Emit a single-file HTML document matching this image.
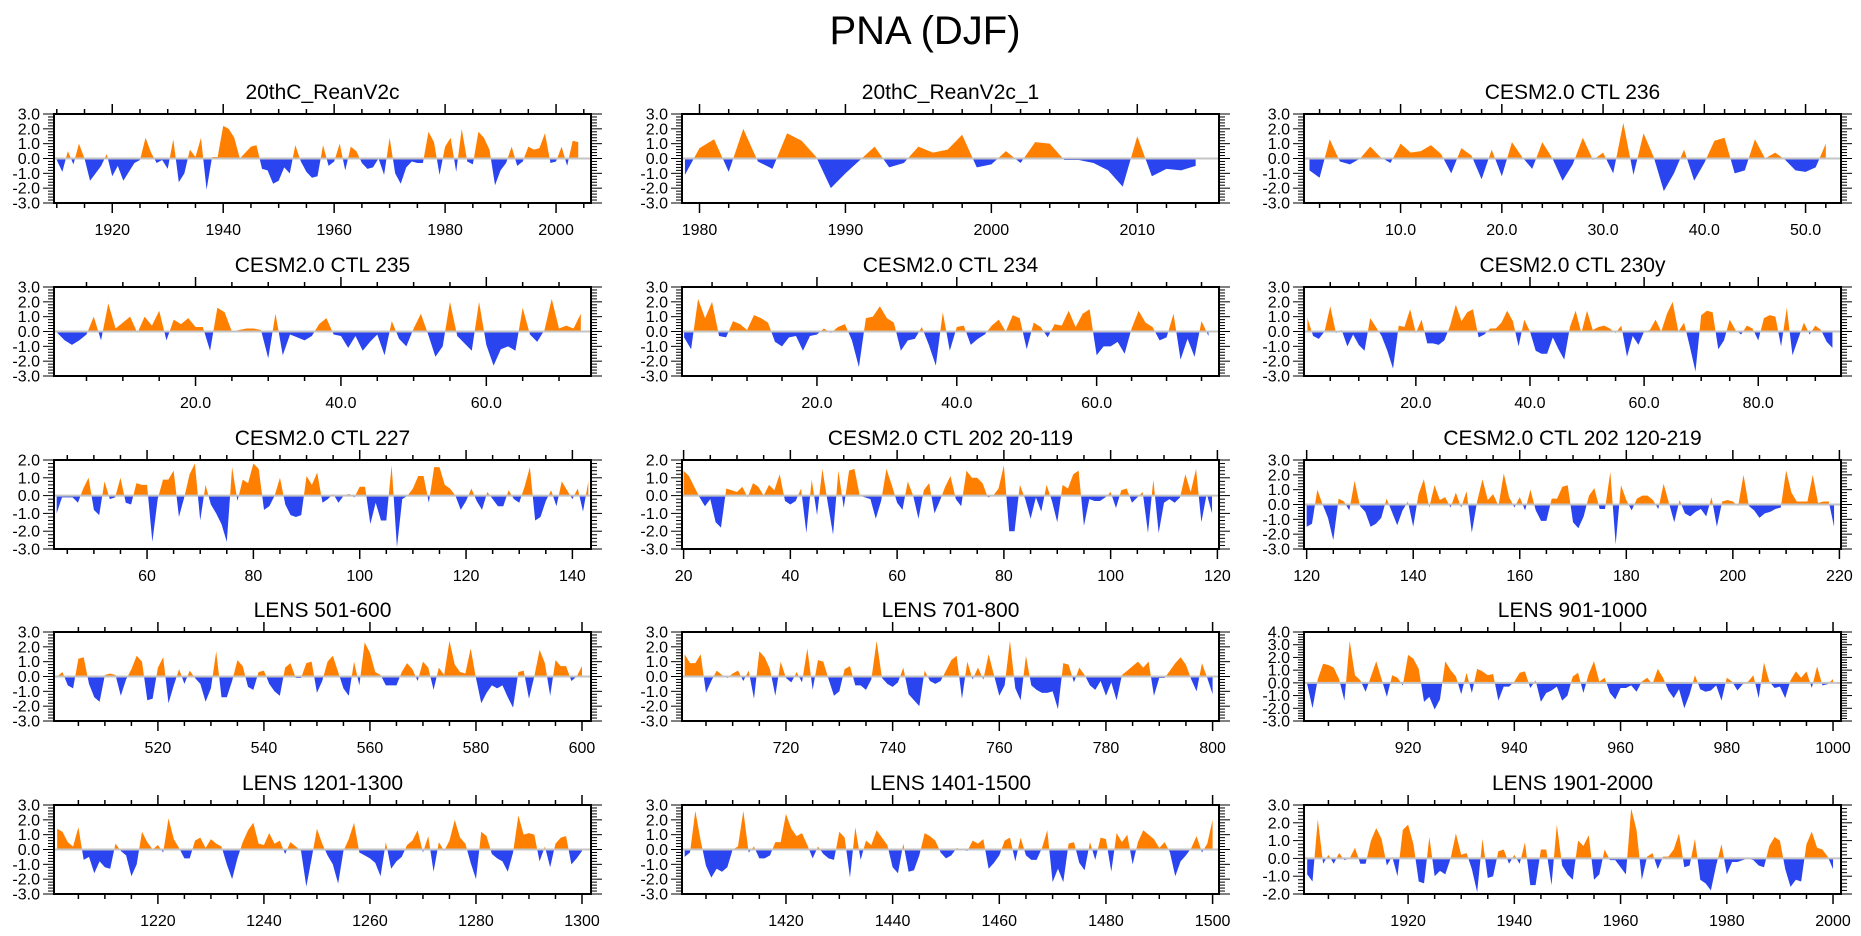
<!DOCTYPE html>
<html><head><meta charset="utf-8"><title>PNA (DJF)</title>
<style>
html,body{margin:0;padding:0;background:#fff;}
svg{display:block;font-family:"Liberation Sans",Arial,sans-serif;}
</style></head>
<body>
<svg id="chart" width="1861" height="936" viewBox="0 0 1861 936" xmlns="http://www.w3.org/2000/svg">
<rect x="0" y="0" width="1861" height="936" fill="#fff"/>
<text x="925" y="44" font-size="40" text-anchor="middle" fill="#000">PNA (DJF)</text>
</svg>
<script>
// ---------- data ----------
const rean20cStart = 1910;
const rean20c = [-0.1,-0.9,0.5,-0.4,1.0,0.0,-1.5,-1.0,-0.5,0.3,-1.2,-0.5,-1.5,-0.9,-0.3,-0.1,1.4,0.4,-0.3,-0.1,-0.7,1.3,-1.6,-1.0,0.6,0.1,1.4,-2.1,0.1,0.1,2.2,2.0,1.4,0.0,0.4,0.8,0.9,-0.7,-0.8,-1.7,-1.5,-0.6,-1.0,0.9,-0.2,-0.9,-1.3,-1.2,0.9,-0.5,-0.2,1.0,-0.8,0.8,0.5,-0.3,-0.7,-0.6,0.0,-1.1,1.4,-1.0,-1.7,-0.6,-0.2,-0.3,-0.3,1.8,1.1,-1.1,0.8,1.4,-0.9,2.0,-0.2,-0.4,1.8,1.4,0.6,-1.8,-0.8,-0.3,0.8,-0.5,-0.2,0.8,0.6,0.7,1.7,-0.3,-0.2,0.8,-0.5,1.2,1.1];
const rean20c1Start = 1979;
const rean20c1 = [-1.1,0.7,1.3,-0.9,2.0,-0.2,-0.7,1.7,1.2,0.1,-2.0,-1.0,-0.1,0.8,-0.6,-0.3,0.8,0.4,0.6,1.6,-0.6,-0.4,0.5,-0.3,1.1,1.0,-0.1,-0.1,-0.3,-0.8,-1.9,1.5,-1.2,-0.7,-0.8,-0.5];
const ctl236Start = 1;
const ctl236 = [-0.8,-1.3,1.3,-0.2,-0.4,0.0,0.8,0.1,-0.3,1.0,0.4,0.5,0.9,0.3,-1.0,0.7,0.2,-1.4,0.6,-1.2,1.1,0.1,-0.7,1.1,0.0,-1.5,-0.4,1.4,-0.1,0.4,-1.0,2.4,-1.1,1.7,0.1,-2.2,-1.0,0.6,-1.5,-0.3,1.2,1.4,-1.0,-0.8,1.3,0.0,0.4,-0.1,-0.8,-0.9,-0.6,1.0];
const ctl235Start = 1;
const ctl235 = [-0.1,-0.6,-0.9,-0.6,-0.2,1.0,-0.6,1.9,0.2,0.6,1.0,-0.1,1.0,0.4,1.4,-0.6,0.8,0.5,0.9,0.3,0.3,-1.3,1.6,1.3,0.0,0.1,0.2,0.2,0.1,-1.8,1.2,-1.6,-0.2,-0.4,-0.6,-0.3,0.5,0.9,-0.2,-0.3,-1.1,-0.3,-1.3,-0.7,-0.2,-1.6,0.7,-0.5,-1.0,0.2,1.2,-0.2,-1.7,-1.0,2.0,-0.3,-0.8,-1.3,2.0,-0.9,-2.3,-1.2,-1.0,-1.3,1.6,-0.2,-0.7,0.1,2.2,0.2,0.4,0.2,1.2];
const ctl234Start = 1;
const ctl234 = [-0.4,-1.2,2.2,0.9,2.0,-0.3,-0.4,0.7,0.5,0.1,1.1,0.9,0.6,-0.7,-1.0,-0.4,-0.3,-1.3,-0.3,-0.2,0.2,-0.1,0.3,0.5,-0.6,-2.4,0.9,1.0,1.7,0.9,0.6,-1.3,-0.6,-0.5,0.3,-0.9,-2.3,1.3,-1.3,0.3,0.4,-0.9,-0.5,-0.2,0.4,0.8,0.0,1.1,0.9,-1.2,0.6,0.3,-0.4,0.5,0.4,1.4,0.3,1.2,1.5,-1.6,-1.0,-1.0,-0.7,-1.5,0.2,1.4,0.6,0.3,-0.6,-0.4,1.2,-1.9,-0.5,-1.7,0.7,-0.3];
const ctl230Start = 1;
const ctl230 = [0.9,-0.3,-0.5,0.0,1.7,-0.1,0.1,-1.0,-0.2,-0.9,-1.3,0.9,0.3,-0.3,-1.3,-2.5,0.4,0.3,1.5,-0.1,0.8,-0.8,-0.8,-0.9,-0.6,0.4,1.8,0.7,1.3,1.5,-0.4,-0.2,0.2,0.2,0.6,1.4,0.7,-1.0,0.8,0.0,-1.3,-1.5,-1.5,-0.4,-1.2,-1.9,0.3,1.4,-0.1,1.4,0.1,0.3,0.4,0.2,-0.1,0.4,-1.7,-0.3,-0.9,0.0,0.1,0.8,0.0,1.2,2.0,0.0,0.6,-1.0,-2.7,1.1,1.4,1.3,-1.2,-0.6,0.8,0.1,-0.2,0.4,0.2,-0.6,0.9,1.1,1.0,-1.0,1.6,-1.6,-0.5,0.6,-0.2,0.4,0.1,-0.7,-1.1];
const ctl227Start = 43;
const ctl227 = [-1.0,-0.1,-0.1,-0.1,-0.4,0.4,1.0,-0.8,-1.1,0.8,-0.2,-0.1,1.0,-0.4,-0.5,0.7,0.6,0.6,-2.6,-0.2,0.9,0.9,1.4,-1.2,-0.1,1.2,1.8,-1.4,0.6,-0.5,-1.0,-1.6,-2.6,1.6,-0.3,0.9,0.7,1.8,1.5,-0.8,-0.6,0.0,1.0,-0.5,-1.1,-1.2,-1.1,1.1,0.6,1.3,-0.4,-0.2,0.1,-0.4,0.0,0.1,-0.1,0.5,0.5,-1.6,-0.4,-1.4,-1.4,1.7,-2.9,-0.2,0.0,0.4,1.1,1.1,-0.4,1.6,1.6,0.6,0.4,0.0,-0.8,-0.3,0.4,-0.3,-0.8,0.2,-0.2,-0.6,-0.6,0.3,-0.2,-0.4,0.5,1.6,-1.4,-1.2,-0.3,0.3,-0.6,0.8,0.3,-0.2,0.4,-0.9,0.8];
const ctl202aStart = 20;
const ctl202a = [1.4,1.1,0.5,-0.1,-0.6,-0.2,-1.5,-1.8,0.4,0.3,0.2,0.5,-0.1,0.7,0.5,0.0,0.6,0.3,1.2,-0.3,-0.5,-0.3,0.4,-2.1,0.9,-1.1,1.5,-0.4,-2.2,1.4,-0.7,1.4,1.5,0.0,-0.1,-0.2,-1.3,-0.3,1.5,0.6,-0.4,-0.8,0.8,0.0,-1.3,0.3,0.7,-1.0,-0.3,0.5,1.1,-0.2,-0.6,1.4,1.0,1.0,0.7,-0.1,0.0,0.4,1.7,-2.0,-2.0,0.6,-0.2,-1.3,-0.1,-0.9,0.6,-0.3,-1.5,0.6,0.4,1.2,1.4,-1.7,-0.2,-0.3,-0.3,-0.1,0.2,-0.7,0.3,0.4,-0.4,-0.1,0.2,-2.1,0.9,-2.1,-0.4,-0.2,-0.4,-0.1,1.2,0.2,1.5,-1.5,0.1,-1.0];
const ctl202bStart = 120;
const ctl202b = [-1.5,-1.3,1.0,0.0,-0.9,-2.4,0.4,0.2,-0.4,1.6,-0.1,-0.5,-1.5,-1.3,-0.9,0.4,-0.5,-1.4,-0.4,0.2,-1.5,0.7,1.7,-0.2,1.3,0.3,0.5,-0.2,0.8,-0.2,0.9,-1.9,0.2,1.7,0.3,0.7,-0.1,2.1,0.5,-0.2,0.5,-0.4,1.0,-0.4,-1.1,-1.1,0.4,0.4,1.2,1.3,-1.2,-1.6,-0.8,0.6,1.1,-0.3,-0.3,2.2,-2.7,1.3,0.3,-0.4,0.4,0.6,0.6,0.3,-0.3,1.4,0.1,-1.2,0.3,-0.6,-0.8,-0.5,-0.3,-0.8,0.5,-1.5,0.2,0.3,0.2,-0.1,2.0,-0.1,-0.4,-0.9,-0.6,-0.5,-0.3,-0.2,2.3,0.8,0.2,0.2,0.2,2.0,0.1,0.2,0.2,-1.5];
const lens501Start = 501;
const lens501 = [0.0,0.3,-0.6,-0.8,1.2,1.3,-0.5,-1.4,-1.7,0.1,0.2,0.1,-1.3,-0.2,0.5,1.4,1.0,-1.6,-1.5,0.6,1.3,-1.8,-0.6,0.5,-0.5,0.4,-0.1,-0.5,-1.7,-0.8,1.7,-1.4,-1.4,-0.3,1.1,0.7,-0.7,-0.9,0.3,0.4,-0.5,-1.0,-1.3,0.6,0.9,-0.1,-0.1,0.9,1.0,-1.1,-0.3,1.0,1.4,0.3,-0.8,-1.3,1.0,-0.6,2.3,1.6,0.3,0.1,-0.6,-0.6,-0.6,0.3,0.9,0.5,-0.3,1.0,0.6,-0.9,0.6,0.1,2.4,0.8,0.3,0.2,1.9,-0.1,-1.8,-1.1,-0.6,-0.8,-0.6,-1.4,-2.1,0.3,0.4,-1.5,0.0,1.8,0.9,-1.3,1.1,0.7,0.7,-0.3,0.0,0.7];
const lens701Start = 701;
const lens701 = [1.5,0.9,0.9,1.5,-1.1,-0.3,0.4,0.1,-0.1,0.2,0.4,-0.3,0.4,-1.5,1.7,1.3,0.5,-1.3,1.0,-0.1,-0.4,0.3,-0.4,1.9,-0.9,1.1,1.0,-0.2,-1.3,-1.0,0.5,0.7,-0.6,-0.6,-0.9,-0.2,2.4,-0.1,-0.5,-0.7,-0.4,0.6,-1.2,-1.6,-2.0,0.4,-0.3,-0.5,-0.3,0.4,1.1,1.4,-1.5,1.0,-0.2,0.6,-0.2,1.5,0.1,-1.3,-0.6,2.4,-0.8,-1.6,1.4,-0.6,-0.9,-1.1,-1.1,-1.0,-2.2,0.9,0.8,-0.4,0.6,0.1,-0.6,-0.9,-0.3,-1.3,-0.4,-1.6,0.1,0.4,0.7,1.0,0.6,1.0,-1.3,-0.1,-0.1,0.4,0.9,1.3,0.8,-0.2,-1.0,0.9,-0.1,-1.2];
const lens901Start = 901;
const lens901 = [-0.1,-2.0,0.3,1.5,1.4,1.2,0.3,-1.4,3.3,0.6,0.2,-0.7,0.5,1.7,0.3,-1.1,0.6,0.4,-0.2,2.2,1.9,1.1,-1.5,-1.1,-2.1,-1.3,1.7,1.0,0.5,-0.9,0.8,-0.8,1.1,0.9,0.6,0.7,-1.4,-0.3,-0.3,0.1,0.8,0.9,-0.4,0.2,-1.5,-0.8,-0.6,-0.3,-1.4,-1.0,0.5,0.8,-0.8,0.7,1.7,0.1,0.4,-0.8,-1.3,-0.4,-0.4,-0.2,-0.7,0.1,0.4,-0.1,1.1,0.4,-0.6,-1.2,-0.5,-2.0,-0.9,0.6,-0.5,-0.7,-0.6,-0.2,-1.4,0.4,0.1,-0.6,-0.1,0.1,0.6,-1.2,1.6,0.1,-0.4,-0.3,-1.2,0.2,0.9,0.4,0.9,-0.4,1.3,-0.2,-0.1,0.3];
const lens1201Start = 1201;
const lens1201 = [1.4,1.2,0.5,0.2,1.5,-0.7,-0.5,-1.6,-0.8,-1.2,-1.3,0.4,-0.1,-0.4,-1.8,-1.0,1.2,0.5,0.0,0.3,-0.2,2.1,0.7,0.1,-0.6,-0.6,0.6,0.8,0.1,0.7,0.4,0.2,-1.0,-2.0,-0.6,0.5,1.3,1.8,0.4,0.3,1.1,0.4,0.6,-0.3,0.5,0.2,-0.1,-2.5,-0.6,1.4,0.4,-0.4,-1.0,-2.3,-0.1,0.7,1.8,-0.2,-0.4,-0.6,-0.9,-1.8,0.5,-1.3,-0.8,-0.5,0.3,0.6,1.3,-0.2,0.9,-1.5,0.5,-0.1,0.6,2.0,0.8,0.4,-0.9,-2.0,1.2,0.9,-0.3,-0.6,-0.8,-1.5,-0.2,2.3,1.0,1.1,1.0,-0.8,0.2,-1.2,0.4,0.8,0.9,-1.0,-0.6,-0.1];
const lens1401Start = 1401;
const lens1401 = [-0.5,-0.2,2.6,0.6,-1.1,-1.9,-1.3,-1.5,-1.2,0.0,0.2,2.6,-0.2,0.2,-0.6,-0.6,-0.4,0.5,0.5,2.4,1.4,0.9,1.1,0.3,-0.6,0.2,-0.3,-0.6,-0.7,1.2,0.8,-1.9,1.5,-0.7,0.6,0.3,1.3,0.8,0.3,-1.2,-1.6,0.4,-1.5,-1.4,-0.4,1.1,0.9,0.6,-0.2,-0.6,-0.4,0.1,0.0,-0.1,0.6,0.4,0.7,-1.3,-0.9,-0.4,0.6,0.8,-0.8,0.8,-0.4,-0.7,-0.7,0.1,1.3,-2.2,-1.3,-2.2,0.4,0.5,-0.9,-1.4,0.5,-0.7,0.8,0.7,-1.5,1.1,0.5,1.0,-1.0,0.5,1.3,1.0,0.7,0.1,0.5,-0.2,-1.8,-0.8,-0.4,0.1,0.9,-0.2,0.4,2.0];
const lens1901Start = 1901;
const lens1901 = [-0.9,-1.3,2.2,-0.3,0.2,-0.3,0.3,-0.1,0.0,0.6,-0.3,-0.3,1.0,1.7,1.1,-0.4,0.1,-1.0,1.6,1.9,0.8,-1.3,-1.4,1.2,-1.0,-0.7,-0.9,0.0,1.4,0.2,0.3,-0.6,-1.9,1.1,-1.1,-1.0,0.4,0.5,-0.3,0.2,-0.3,0.9,-1.5,-1.5,0.5,0.5,-1.5,1.9,-0.4,-0.9,-1.2,1.0,0.7,1.3,-1.2,-0.9,0.5,-0.1,-0.1,-0.5,-0.9,2.8,1.6,-1.2,0.1,0.3,-0.6,0.1,0.1,0.5,1.4,-0.5,-0.4,1.1,-1.2,-1.4,-1.8,-0.4,0.8,-0.9,-0.2,-0.2,-0.1,0.0,-0.1,-0.4,-0.5,0.7,1.2,1.0,-0.6,-1.6,-1.2,-1.3,0.8,1.5,0.6,0.5,0.1,-0.6];

// panel titles
const panelTitles = ["20thC_ReanV2c","20thC_ReanV2c_1","CESM2.0 CTL 236","CESM2.0 CTL 235","CESM2.0 CTL 234","CESM2.0 CTL 230y","CESM2.0 CTL 227","CESM2.0 CTL 202 20-119","CESM2.0 CTL 202 120-219","LENS 501-600","LENS 701-800","LENS 901-1000","LENS 1201-1300","LENS 1401-1500","LENS 1901-2000"];
const panelSeries = [rean20c,rean20c1,ctl236,ctl235,ctl234,ctl230,ctl227,ctl202a,ctl202b,lens501,lens701,lens901,lens1201,lens1401,lens1901];
const panelStarts = [rean20cStart,rean20c1Start,ctl236Start,ctl235Start,ctl234Start,ctl230Start,ctl227Start,ctl202aStart,ctl202bStart,lens501Start,lens701Start,lens901Start,lens1201Start,lens1401Start,lens1901Start];
const panelXMin = [1909.5,1978.8,0.46,0.53,0.7,0.4,42.5,19.7,119.5,500.4,700.5,900.4,1200.4,1400.5,1900.4];
const panelXMax = [2006.3,2015.6,53.5,74.4,77.5,94.5,143.5,120.3,220.3,601.7,801.2,1001.5,1301.7,1501.2,2001.5];
const panelYMin = [-3,-3,-3,-3,-3,-3,-3,-3,-3,-3,-3,-3,-3,-3,-2];
const panelYMax = [3,3,3,3,3,3,2,2,3,3,3,4,3,3,3];
const xMajorStep = [20,10,10,20,20,20,20,20,20,20,20,20,20,20,20];
const xMinorStep = [5,2,2,5,5,5,5,5,5,5,5,5,5,5,5];
const xDecimals = [0,0,1,1,1,1,0,0,0,0,0,0,0,0,0];

// ---------- layout ----------
const colLeft = [54, 682, 1304];
const rowTop = [114, 287, 460, 632, 805];
const PW = 537, PH = 89;
const NS = "http://www.w3.org/2000/svg";
const svg = document.getElementById('chart');

function el(tag, parent) {
  const e = document.createElementNS(NS, tag);
  parent.appendChild(e);
  return e;
}
function line(parent, x1, y1, x2, y2, w) {
  const l = el('line', parent);
  l.setAttribute('x1', x1); l.setAttribute('y1', y1);
  l.setAttribute('x2', x2); l.setAttribute('y2', y2);
  l.setAttribute('stroke', '#000'); l.setAttribute('stroke-width', w);
  return l;
}

panelSeries.forEach((vals, p) => {
  const L = colLeft[p % 3], T = rowTop[Math.floor(p / 3)];
  const xmin = panelXMin[p], xmax = panelXMax[p], ymin = panelYMin[p], ymax = panelYMax[p];
  const sx = v => L + (v - xmin) / (xmax - xmin) * PW;
  const sy = v => T + (ymax - v) / (ymax - ymin) * PH;
  const y0 = sy(0);

  const g = el('g', svg);
  
  

  const title = el('text', g);
  
  
  title.setAttribute('x', L + PW / 2); title.setAttribute('y', T - 15);
  title.setAttribute('font-size', '21'); title.setAttribute('text-anchor', 'middle');
  title.textContent = panelTitles[p];

  // clip paths
  const defs = el('defs', g);
  const cpA = el('clipPath', defs); cpA.setAttribute('id', 'ca' + p);
  const ra = el('rect', cpA); ra.setAttribute('x', L); ra.setAttribute('y', T); ra.setAttribute('width', PW); ra.setAttribute('height', y0 - T);
  const cpB = el('clipPath', defs); cpB.setAttribute('id', 'cb' + p);
  const rb = el('rect', cpB); rb.setAttribute('x', L); rb.setAttribute('y', y0); rb.setAttribute('width', PW); rb.setAttribute('height', T + PH - y0);

  const start = panelStarts[p];
  let pts = sx(start).toFixed(2) + ',' + y0.toFixed(2);
  vals.forEach((v, i) => { pts += ' ' + sx(start + i).toFixed(2) + ',' + sy(v).toFixed(2); });
  pts += ' ' + sx(start + vals.length - 1).toFixed(2) + ',' + y0.toFixed(2);

  const pos = el('polygon', g);
  
  
  pos.setAttribute('points', pts); pos.setAttribute('fill', '#ff8000'); pos.setAttribute('clip-path', 'url(#ca' + p + ')');
  const neg = el('polygon', g);
  
  
  neg.setAttribute('points', pts); neg.setAttribute('fill', '#2a45f0'); neg.setAttribute('clip-path', 'url(#cb' + p + ')');

  const zl = el('line', g);
  
  
  zl.setAttribute('x1', L); zl.setAttribute('x2', L + PW); zl.setAttribute('y1', y0); zl.setAttribute('y2', y0);
  zl.setAttribute('stroke', '#c4c4c4'); zl.setAttribute('stroke-width', '2');

  // frame
  const fr = el('rect', g);
  
  
  fr.setAttribute('x', L); fr.setAttribute('y', T); fr.setAttribute('width', PW); fr.setAttribute('height', PH);
  fr.setAttribute('fill', 'none'); fr.setAttribute('stroke', '#000'); fr.setAttribute('stroke-width', '2');

  // y ticks
  const yax = el('g', g);
  
  
  for (let k = Math.round(ymin * 5); k <= Math.round(ymax * 5); k++) {
    const v = k / 5, yy = sy(v), major = (k % 5 === 0);
    const len = major ? 11 : 6;
    line(yax, L - len, yy, L, yy, 1);
    line(yax, L + PW, yy, L + PW + len, yy, 1);
    if (major) {
      const t = el('text', yax);
      
      
      t.setAttribute('x', L - 14); t.setAttribute('y', yy + 5.5);
      t.setAttribute('font-size', '16'); t.setAttribute('text-anchor', 'end');
      t.textContent = v.toFixed(1);
    }
  }
  // x ticks
  const xax = el('g', g);
  
  
  const ms = xMinorStep[p], MS = xMajorStep[p];
  for (let v = Math.ceil(xmin / ms) * ms; v <= xmax + 1e-9; v += ms) {
    const xx = sx(v), major = (Math.abs(v / MS - Math.round(v / MS)) < 1e-9);
    const len = major ? 10 : 5;
    line(xax, xx, T + PH, xx, T + PH + len, 1.5);
    line(xax, xx, T - len, xx, T, 1.5);
    if (major) {
      const t = el('text', xax);
      
      
      t.setAttribute('x', xx); t.setAttribute('y', T + PH + 32);
      t.setAttribute('font-size', '16'); t.setAttribute('text-anchor', 'middle');
      t.textContent = v.toFixed(xDecimals[p]);
    }
  }
});
</script>
</body></html>
